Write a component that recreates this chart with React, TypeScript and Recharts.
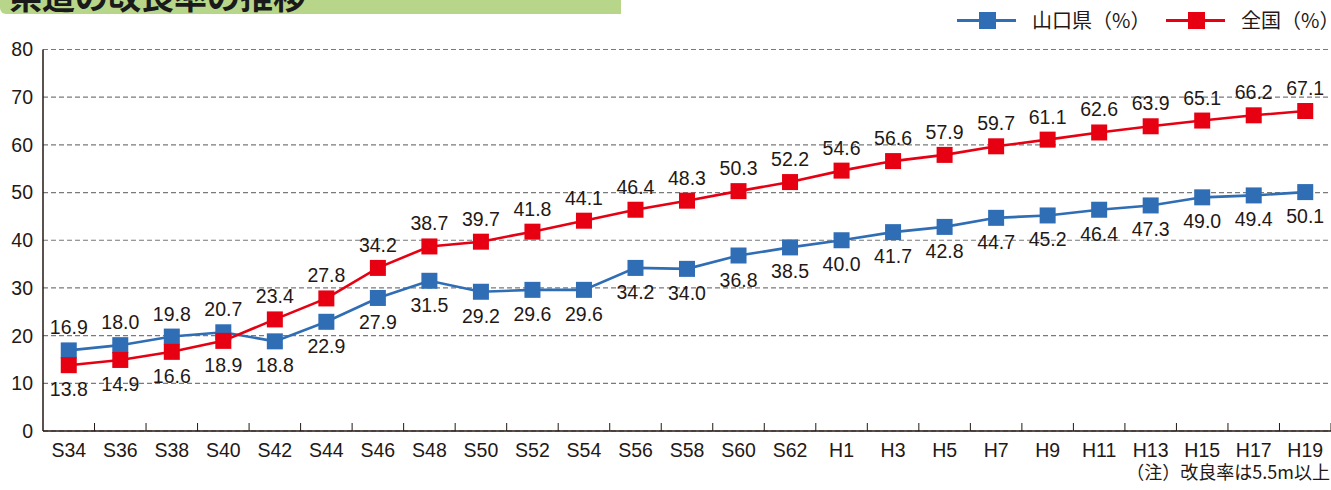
import React from "react";
import { LineChart, Line, XAxis, YAxis, CartesianGrid, LabelList } from "recharts";

const categories = [
  "S34", "S36", "S38", "S40", "S42", "S44", "S46", "S48", "S50", "S52", "S54", "S56", "S58", "S60", "S62",
  "H1", "H3", "H5", "H7", "H9", "H11", "H13", "H15", "H17", "H19",
];
const yamaguchi = [16.9, 18.0, 19.8, 20.7, 18.8, 22.9, 27.9, 31.5, 29.2, 29.6, 29.6, 34.2, 34.0, 36.8, 38.5, 40.0, 41.7, 42.8, 44.7, 45.2, 46.4, 47.3, 49.0, 49.4, 50.1];
const national = [13.8, 14.9, 16.6, 18.9, 23.4, 27.8, 34.2, 38.7, 39.7, 41.8, 44.1, 46.4, 48.3, 50.3, 52.2, 54.6, 56.6, 57.9, 59.7, 61.1, 62.6, 63.9, 65.1, 66.2, 67.1];
const yTicks = [0, 10, 20, 30, 40, 50, 60, 70, 80];

const BLUE = "#2f6db5";
const RED = "#e60012";
const INK = "#231815";
const LATIN = "'Liberation Sans', Arial, Helvetica, sans-serif";
const CJK = "'Noto Sans CJK JP', 'Noto Sans', sans-serif";

const data = categories.map((cat, i) => ({ cat, yamaguchi: yamaguchi[i], national: national[i] }));

const squareDot = (color: string) => (props: any) => {
  const { cx, cy, index } = props;
  if (cx == null || cy == null) return <g key={index} />;
  return <rect key={index} x={cx - 8} y={cy - 8} width={16} height={16} fill={color} />;
};

// upper series gets its label above the point, lower one below
const makeLabel = (mine: number[], other: number[]) => (props: any) => {
  const { x, y, value, index } = props;
  const above = mine[index] > other[index] || (mine[index] === other[index] && mine === national);
  return (
    <text
      key={index}
      x={x}
      y={above ? y - 16 : y + 31}
      textAnchor="middle"
      fontSize={19.5}
      fontFamily={LATIN}
      fill={INK}
    >
      {Number(value).toFixed(1)}
    </text>
  );
};

const CatTick = (props: any) => {
  const { x, y, payload } = props;
  const half = payload?.offset || 25.76;
  return (
    <g>
      <line x1={x + half} x2={x + half} y1={y} y2={y - 8} stroke={INK} strokeWidth={1} />
      <text x={x} y={y + 26} textAnchor="middle" fontSize={19.5} fontFamily={LATIN} fill={INK}>
        {payload.value}
      </text>
    </g>
  );
};

function LegendItem({ color, label, left }: { color: string; label: string; left: number }) {
  return (
    <div style={{ position: "absolute", left, top: 0, height: 40 }}>
      <div style={{ position: "absolute", left: 0, top: 19, width: 59, height: 3, background: color }} />
      <div style={{ position: "absolute", left: 22, top: 12, width: 17, height: 17, background: color }} />
      <div
        style={{
          position: "absolute",
          left: 75,
          top: 6,
          whiteSpace: "nowrap",
          fontSize: 20,
          lineHeight: "28px",
          fontFamily: CJK,
          color: INK,
        }}
      >
        {label}
      </div>
    </div>
  );
}

export default function App() {
  return (
    <div style={{ position: "absolute", left: 0, top: 0, width: 1331, height: 490, background: "#fff", overflow: "hidden" }}>
      <div
        style={{
          position: "absolute",
          left: 0,
          top: 0,
          width: 621,
          height: 14,
          background: "#b7d68a",
          borderBottomLeftRadius: 6,
          overflow: "hidden",
        }}
      >
        <div
          style={{
            position: "absolute",
            left: 9,
            top: -21,
            fontSize: 33,
            lineHeight: "33px",
            fontWeight: 700,
            fontFamily: CJK,
            color: "#1a1a1a",
            whiteSpace: "nowrap",
          }}
        >
          県道の改良率の推移
        </div>
      </div>

      <LegendItem color={BLUE} label="山口県（%）" left={957} />
      <LegendItem color={RED} label="全国（%）" left={1166} />

      <LineChart
        width={1331}
        height={490}
        data={data}
        margin={{ top: 49.5, right: 0, bottom: 29, left: 0 }}
        style={{ position: "absolute", left: 0, top: 0 }}
      >
        <CartesianGrid vertical={false} stroke="#7a7a7a" strokeDasharray="5 3" strokeWidth={1.2} />
        <XAxis
          dataKey="cat"
          scale="band"
          height={30}
          interval={0}
          axisLine={{ stroke: INK, strokeWidth: 1.5 }}
          tickLine={false}
          tickSize={0}
          tickMargin={0}
          tick={<CatTick />}
        />
        <YAxis
          width={43}
          domain={[0, 80]}
          ticks={yTicks}
          interval={0}
          axisLine={{ stroke: INK, strokeWidth: 1.5 }}
          tickLine={false}
          tickSize={0}
          tickMargin={10}
          tick={{ fontSize: 19.5, fontFamily: LATIN, fill: INK }}
        />
        <Line
          dataKey="yamaguchi"
          type="linear"
          stroke={BLUE}
          strokeWidth={2.6}
          dot={squareDot(BLUE)}
          activeDot={false}
          isAnimationActive={false}
        >
          <LabelList dataKey="yamaguchi" content={makeLabel(yamaguchi, national)} />
        </Line>
        <Line
          dataKey="national"
          type="linear"
          stroke={RED}
          strokeWidth={2.6}
          dot={squareDot(RED)}
          activeDot={false}
          isAnimationActive={false}
        >
          <LabelList dataKey="national" content={makeLabel(national, yamaguchi)} />
        </Line>
      </LineChart>

      <div
        style={{
          position: "absolute",
          right: 1,
          top: 461,
          fontSize: 18,
          lineHeight: "20px",
          fontFamily: CJK,
          color: INK,
          whiteSpace: "nowrap",
        }}
      >
        （注）改良率は5.5m以上
      </div>
    </div>
  );
}
